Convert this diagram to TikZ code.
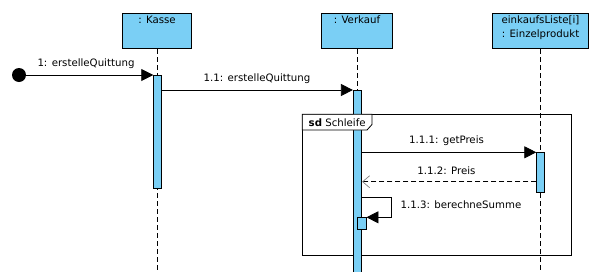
\documentclass[tikz,border=0pt]{standalone}
\usepackage{fontspec}
\setmainfont{DejaVu Sans}
\usetikzlibrary{arrows.meta,positioning}
\definecolor{lblue}{RGB}{122,207,245}
\tikzset{
  obj/.style={draw=black,fill=lblue,line width=0.8pt,minimum height=35pt,inner sep=0pt,anchor=north},
  objtext/.style={font=\fontsize{10.2}{14.3}\selectfont,align=center,inner sep=0pt,anchor=north},
  life/.style={draw=black,line width=0.8pt,dash pattern=on 5pt off 3pt},
  act/.style={draw=black,fill=lblue,line width=0.8pt,inner sep=0pt,anchor=north},
  msg/.style={draw=black,line width=0.8pt,-{Triangle[length=12pt,width=12pt]}},
  reply/.style={draw=black,line width=0.8pt,dash pattern=on 5pt off 3pt,-{Straight Barb[length=7pt,width=12pt,line width=0.7pt,color=gray]}},
  lbl/.style={font=\fontsize{10.2}{12}\selectfont,inner sep=0pt}
}
\begin{document}
\begin{tikzpicture}[x=1pt,y=-1pt]
\useasboundingbox (0,0) rectangle (613,271);
% objects
\node[obj,minimum width=69pt] (kasse) at (157,13.3) {};
\node[objtext] (kt) at (157,15.5) {: Kasse};
\node[obj,minimum width=70.6pt] (verkauf) at (357,13.3) {};
\node[objtext] (vt) at (357,15.5) {: Verkauf};
\node[obj,minimum width=96.4pt] (einzel) at (540.5,13.3) {};
\node[objtext] (et) at (540.5,15.5) {einkaufsListe[i]\\: Einzelprodukt};
% lifelines
\coordinate (kend) at (157,271);
\coordinate (vend) at (357,271);
\coordinate (eend) at (540.5,271);
\draw[life] (kasse.south) -- (kend);
\draw[life] (verkauf.south) -- (vend);
\draw[life] (einzel.south) -- (eend);
% frame
\draw[line width=0.8pt] (302.3,114.3) rectangle (571.7,255);
% activations
\node[act,minimum width=7.6pt,minimum height=113pt] (ka) at (157.5,75.3) {};
\node[act,minimum width=8.4pt,minimum height=190pt] (va) at (357.5,90) {};
\node[act,minimum width=8pt,minimum height=40pt] (ea) at (540.7,152.3) {};
\node[act,minimum width=8.3pt,minimum height=12pt] (sa) at (361.9,217.3) {};
% tab
\draw[line width=0.8pt,fill=white] (302.3,114.3) -- (302.3,130) -- (367,130) -- (372,124.5) -- (372,114.3) -- cycle;
\node[lbl,anchor=west] (sd) at (308.5,122.3) {\textbf{sd} Schleife};
% start
\fill (19,75) circle (7pt);
\coordinate (start) at (19,75);
% messages
\draw[msg] (start) -- (ka.west |- start);
\node[lbl] (l1) at (86,63.5) {1: erstelleQuittung};
\draw[msg] (ka.east |- 0,90) -- (va.north west);
\node[lbl] (l2) at (257,78.5) {1.1: erstelleQuittung};
\draw[msg] (va.east |- 0,152.3) -- (ea.north west);
\node[lbl] (l3) at (446.5,140.5) {1.1.1: getPreis};
\draw[reply] (ea.west |- 0,181.7) -- (va.east |- 0,181.7);
\node[lbl] (l4) at (446.5,170.5) {1.1.2: Preis};
\coordinate (s1) at (391,197.7);
\coordinate (s2) at (391,217.3);
\draw[msg] (va.east |- 0,197.7) -- (s1) -- (s2) -- (sa.north east);
\node[lbl,anchor=west] (l5) at (400.5,204.5) {1.1.3: berechneSumme};
\end{tikzpicture}
\end{document}
